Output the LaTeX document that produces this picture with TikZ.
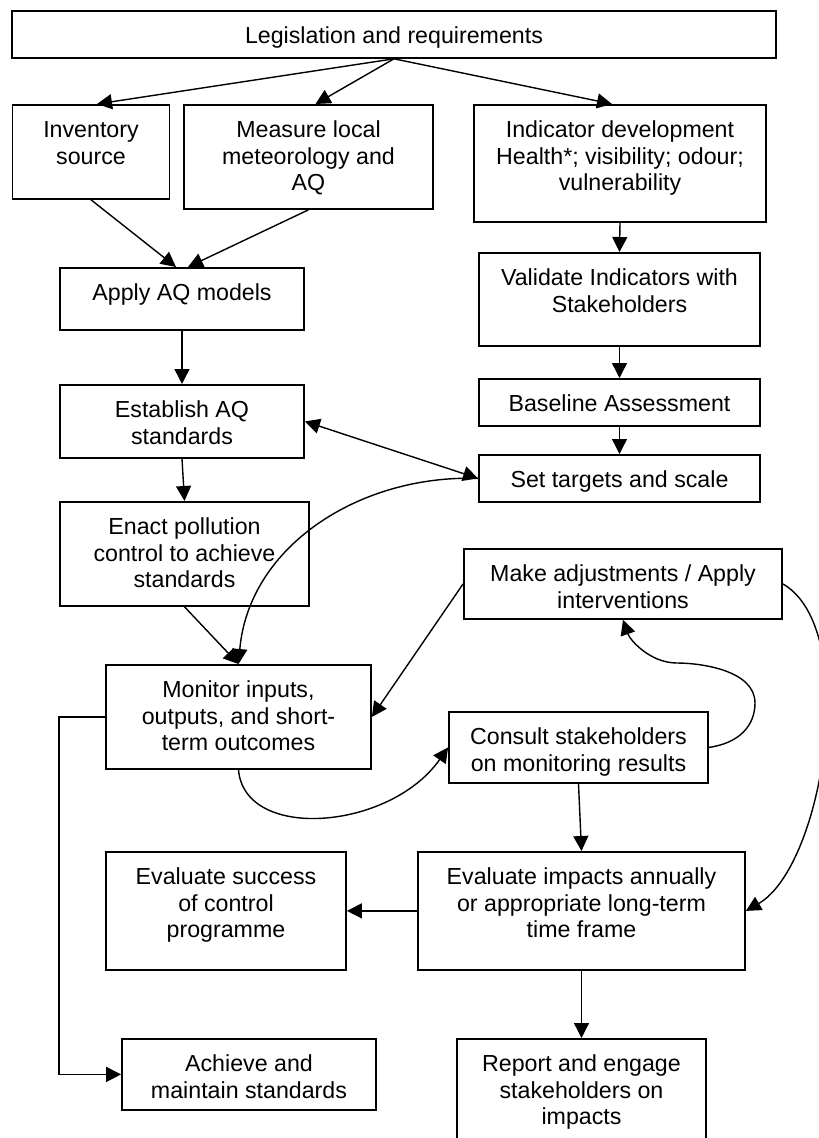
\documentclass[tikz,border=0pt]{standalone}
\usepackage{fontspec}
\setmainfont{Liberation Sans}
\usetikzlibrary{arrows.meta}
\newcommand{\boxlines}[1]{\begin{tabular}[t]{@{}c@{}}#1\end{tabular}}
\begin{document}
\begin{tikzpicture}[>={Triangle[length=15pt,width=15pt]},x=1pt,y=1pt,
		box/.style={draw,line width=1.8pt,anchor=north,inner sep=0pt,text height=32.5pt,font=\fontsize{23.2}{26.7}\selectfont},
		link/.style={->,line width=1.4pt}]
		\useasboundingbox (0,0) rectangle (819,-1138);
		\node[box,minimum width=764pt,text depth=14.5pt] (leg) at (394,-10) {\boxlines{Legislation and requirements}};
		\node[box,minimum width=157pt,text depth=61.5pt] (inv) at (91,-104) {\boxlines{Inventory\\source}};
		\node[box,minimum width=249pt,text depth=71.5pt] (mea) at (308.5,-104) {\boxlines{Measure local\\meteorology and\\AQ}};
		\node[box,minimum width=292pt,text depth=84.5pt] (ind) at (620,-104) {\boxlines{Indicator development\\Health*; visibility; odour;\\vulnerability}};
		\node[box,minimum width=244pt,text depth=29.5pt] (app) at (182,-267) {\boxlines{Apply AQ models}};
		\node[box,minimum width=281pt,text depth=60.5pt] (val) at (619.5,-252) {\boxlines{Validate Indicators with\\Stakeholders}};
		\node[box,minimum width=281pt,text depth=14.5pt] (bas) at (619.5,-378) {\boxlines{Baseline Assessment}};
		\node[box,minimum width=244pt,text depth=40.5pt] (est) at (182,-384) {\boxlines{Establish AQ\\standards}};
		\node[box,minimum width=281pt,text depth=14.5pt] (tar) at (619.5,-454) {\boxlines{Set targets and scale}};
		\node[box,minimum width=249pt,text depth=71.5pt] (ena) at (184.5,-501) {\boxlines{Enact pollution\\control to achieve\\standards}};
		\node[box,minimum width=318pt,text depth=37.5pt] (adj) at (623,-548) {\boxlines{Make adjustments / Apply\\interventions}};
		\node[box,minimum width=265pt,text depth=71.5pt] (mon) at (238.5,-664) {\boxlines{Monitor inputs,\\outputs, and short-\\term outcomes}};
		\node[box,minimum width=259pt,text depth=38.5pt] (con) at (578.5,-711) {\boxlines{Consult stakeholders\\on monitoring results}};
		\node[box,minimum width=240pt,text depth=85.5pt] (evs) at (226,-851) {\boxlines{Evaluate success\\of control\\programme}};
		\node[box,minimum width=327pt,text depth=85.5pt] (evi) at (581.5,-851) {\boxlines{Evaluate impacts annually\\or appropriate long-term\\time frame}};
		\node[box,minimum width=254pt,text depth=38.5pt] (ach) at (249,-1038) {\boxlines{Achieve and\\maintain standards}};
		\node[box,minimum width=249pt,text depth=97.5pt] (rep) at (581.5,-1038) {\boxlines{Report and engage\\stakeholders on\\impacts}};
		\draw[link] (leg.south) -- ([xshift=6pt]inv.north);
		\draw[link] (leg.south) -- ([xshift=7pt]mea.north);
		\draw[link] (leg.south) -- ([xshift=-8pt]ind.north);
		\draw[link] (inv.south) -- ([xshift=-6pt]app.north);
		\draw[link] (mea.south) -- ([xshift=6pt]app.north);
		\draw[link] (app.south) -- (est.north);
		\draw[link] (est.south) -- (ena.north);
		\draw[link] (ind.south) -- (val.north);
		\draw[link] (val.south) -- (bas.north);
		\draw[link] (bas.south) -- (tar.north);
		\draw[<->,line width=1.4pt] (est.east) -- (tar.west);
		\draw[link] (tar.west) to[out=178,in=85] (mon.north);
		\draw[link] (ena.south) -- (mon.north);
		\draw[link] (adj.west) -- (mon.east);
		\draw[link] (mon.south) .. controls +(6,-72) and +(-58,-83) .. (con.west);
		\draw[link] (con.east) .. controls (740,-743) and (755,-725) .. (755,-703)
			.. controls (755,-670) and (700,-663) .. (677,-663)
			.. controls (650,-663) and (630,-640) .. (adj.south);
		\draw[link] (adj.east) to[out=-30,in=30,looseness=0.7] (evi.east);
		\draw[link] (con.south) -- (evi.north);
		\draw[link] (evi.west) -- (evs.east);
		\draw[link] (evi.south) -- (rep.north);
		\draw[link] (mon.west) -- ++(-46,0) |- (ach.west);
\end{tikzpicture}
\end{document}
